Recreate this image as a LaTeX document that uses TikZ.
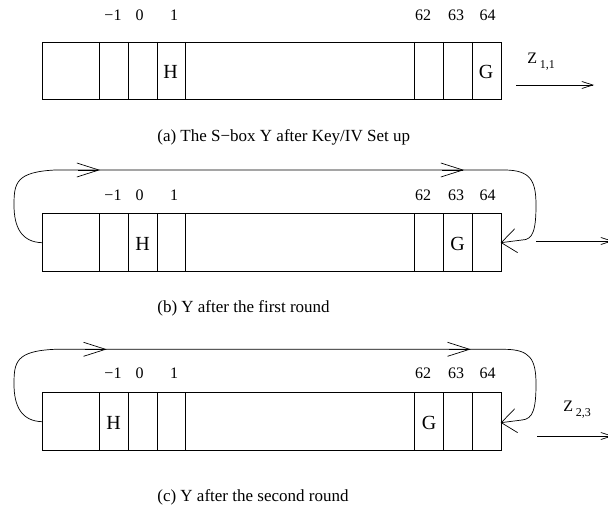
\documentclass[tikz,border=0pt]{standalone}
\usepackage{fontspec}
\setmainfont{Liberation Serif}
\usetikzlibrary{arrows.meta}
\begin{document}
\begin{tikzpicture}[x=1pt,y=-1pt,line width=0.7pt,
  lbl/.style={font=\fontsize{16}{16}\selectfont,inner sep=0pt},
  ltr/.style={font=\fontsize{20}{20}\selectfont,inner sep=0pt},
  captxt/.style={font=\fontsize{17}{17}\selectfont,inner sep=0pt,anchor=west},
  zlbl/.style={font=\fontsize{16}{16}\selectfont,inner sep=0pt,anchor=west},
  sbox/.style={draw,minimum width=458.7pt,minimum height=57.3pt,inner sep=0pt,anchor=north west},
  midbarb/.style={-{Straight Barb[length=22pt,width=14pt,line width=0.7pt]}},
  endbarb/.style={-{Straight Barb[length=15pt,width=24pt,line width=0.7pt]}},
  outarrow/.style={-{Straight Barb[length=11pt,width=7pt,line width=0.7pt]}}
]
\useasboundingbox (0,0) rectangle (608,519);

% ---------- row (a)
\node[sbox] (boxa) at (42,42) {};
\foreach \xx in {99.3,128.3,157,185.3,414.7,443.3,472.3}
  \draw (\xx,42) -- (\xx,99.3);
\node[lbl] (la1) at (113,15) {−1};
\node[lbl] (la2) at (139.5,15) {0};
\node[lbl] (la3) at (174,15) {1};
\node[lbl] (la4) at (423,15) {62};
\node[lbl] (la5) at (456,15) {63};
\node[lbl] (la6) at (487.5,15) {64};
\node[ltr] (ha) at (170.5,72) {H};
\node[ltr] (ga) at (486,72) {G};
\coordinate (za0) at (516,85);
\coordinate (za1) at (594,85);
\draw[outarrow] (za0) -- (za1);
\node[zlbl] (zla) at (527,62) {Z\,\raisebox{-5pt}{\fontsize{12}{12}\selectfont 1,1}};
\node[captxt] (capa) at (157,137) {(a) The S−box Y after Key/IV Set up};

% ---------- row (b)
\node[sbox] (boxb) at (42,213.3) {};
\foreach \xx in {99.3,128.3,157,185.3,414.7,443.3,472.3}
  \draw (\xx,213.3) -- (\xx,270.6);
\node[lbl] (lb1) at (113,195) {−1};
\node[lbl] (lb2) at (139.5,195) {0};
\node[lbl] (lb3) at (174,195) {1};
\node[lbl] (lb4) at (423,195) {62};
\node[lbl] (lb5) at (456,195) {63};
\node[lbl] (lb6) at (487.5,195) {64};
\node[ltr] (hb) at (142.5,244) {H};
\node[ltr] (gb) at (457.5,244) {G};
\coordinate (lb) at (42,242.7);
\coordinate (rb) at (500.7,242.7);
\draw (lb) .. controls (22,242) and (14,228) .. (14,205)
       .. controls (14,183) and (16,172) .. (55,170) -- (504,170)
       .. controls (530,170) and (536,180) .. (536,205)
       .. controls (536,230) and (533,240) .. (522,240);
\draw[endbarb] (522,240) -- (rb);
\draw[midbarb] (78,170) -- (100,170);
\draw[midbarb] (442,170) -- (464,170);
\coordinate (zb0) at (536,241);
\coordinate (zb1) at (613,241);
\draw[outarrow] (zb0) -- (zb1);
\node[captxt] (capb) at (157,308) {(b) Y after the first round};

% ---------- row (c)
\node[sbox] (boxc) at (42,392.3) {};
\foreach \xx in {99.3,128.3,157,185.3,414.7,443.3,472.3}
  \draw (\xx,392.3) -- (\xx,449.6);
\node[lbl] (lc1) at (113,373) {−1};
\node[lbl] (lc2) at (139.5,373) {0};
\node[lbl] (lc3) at (174,373) {1};
\node[lbl] (lc4) at (423,373) {62};
\node[lbl] (lc5) at (456,373) {63};
\node[lbl] (lc6) at (487.5,373) {64};
\node[ltr] (hc) at (113.5,423) {H};
\node[ltr] (gc) at (429,423) {G};
\coordinate (lc) at (42,421.7);
\coordinate (rc) at (500.7,422.7);
\draw (lc) .. controls (22,421) and (14,407) .. (14,384)
       .. controls (14,362) and (16,351) .. (55,349.3) -- (504,349.3)
       .. controls (530,349.3) and (536,359) .. (536,384)
       .. controls (536,409) and (533,419) .. (522,420);
\draw[endbarb] (522,420) -- (rc);
\draw[midbarb] (84.7,349.3) -- (106.7,349.3);
\draw[midbarb] (448.7,349.3) -- (470.7,349.3);
\coordinate (zc0) at (537,436);
\coordinate (zc1) at (613,436);
\draw[outarrow] (zc0) -- (zc1);
\node[zlbl] (zlc) at (563,410) {Z\,\raisebox{-5pt}{\fontsize{12}{12}\selectfont 2,3}};
\node[captxt] (capc) at (157,497) {(c) Y after the second round};
\end{tikzpicture}
\end{document}
